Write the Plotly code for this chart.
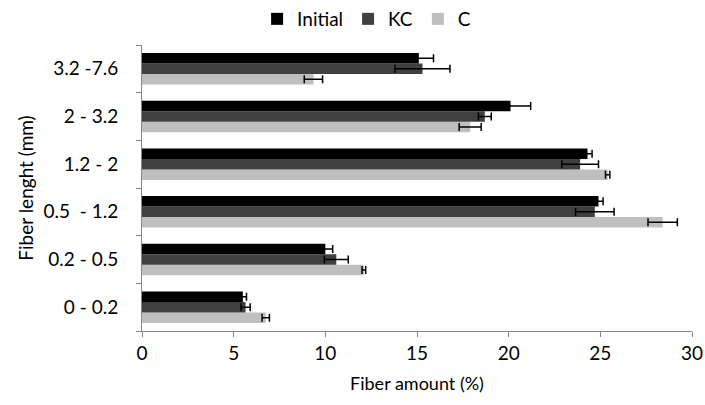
import plotly.graph_objects as go

categories = ["0 - 0.2", "0.2 - 0.5", "0.5  - 1.2", "1.2 - 2", "2 - 3.2", "3.2 -7.6"]
initial = [5.5, 10.0, 24.9, 24.3, 20.1, 15.1]
initial_err = [0.2, 0.4, 0.25, 0.25, 1.1, 0.8]
kc = [5.65, 10.6, 24.7, 23.9, 18.7, 15.3]
kc_err = [0.25, 0.65, 1.05, 1.0, 0.35, 1.5]
c = [6.75, 12.1, 28.4, 25.4, 17.9, 9.35]
c_err = [0.2, 0.1, 0.8, 0.12, 0.6, 0.5]

FONT = "Lato"
FS = 19

fig = go.Figure()
series = [("C", c, c_err, "#bfbfbf"), ("KC", kc, kc_err, "#404040"), ("Initial", initial, initial_err, "#000000")]
for name, vals, errs, col in series:
    fig.add_trace(go.Bar(
        y=categories, x=vals, name=name, orientation="h",
        marker=dict(color=col, line=dict(width=0)),
        error_x=dict(type="data", array=errs, visible=True, color="black", thickness=1.5, width=4),
    ))

fig.update_layout(
    width=705, height=405,
    margin=dict(l=142, r=13, t=45, b=74, autoexpand=False),
    paper_bgcolor="white", plot_bgcolor="white",
    barmode="group", bargap=0.34, bargroupgap=0,
    font=dict(family=FONT, size=FS, color="black"),
    legend=dict(orientation="h", traceorder="reversed", xref="container", yref="container",
                x=0.52, xanchor="center", y=1.0, yanchor="top",
                font=dict(size=FS), itemwidth=30, tracegroupgap=0),
    xaxis=dict(range=[0, 30], dtick=5, showgrid=False, zeroline=False, automargin=False,
               showline=True, linecolor="#868686", linewidth=1,
               ticks="outside", ticklen=5, tickcolor="#868686",
               title=dict(text="Fiber amount (%)", standoff=14, font=dict(size=18))),
    yaxis=dict(showgrid=False, showline=True, linecolor="#868686", linewidth=1, automargin=False,
               ticks="outside", ticklen=5, tickcolor="#868686", tickson="boundaries",
               ticklabelstandoff=19,
               title=dict(text="Fiber lenght (mm)", standoff=4, font=dict(size=FS))),
)

fig.write_html("out.html", config={"displayModeBar": False},
               post_script="document.body.style.margin='0';document.body.style.overflow='hidden';")
